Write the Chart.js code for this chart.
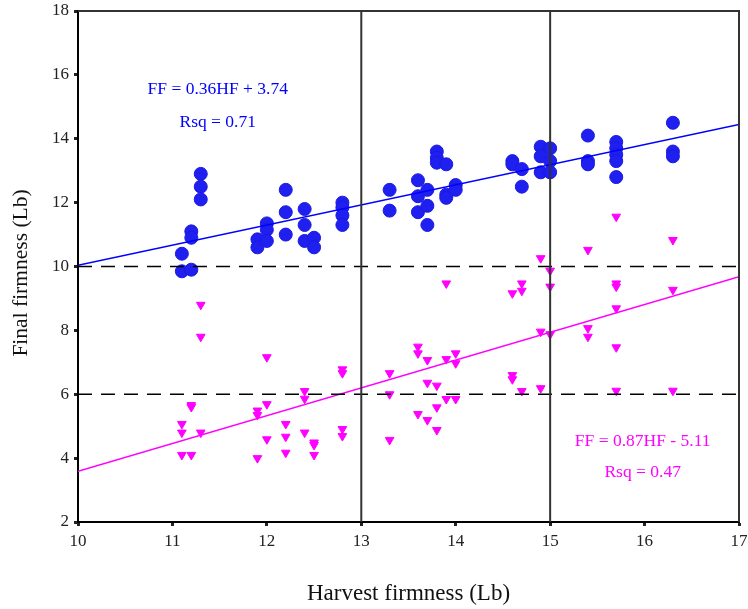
<!DOCTYPE html>
<html>
<head>
<meta charset="utf-8">
<script src="https://cdn.jsdelivr.net/npm/chart.js@4.4.0/dist/chart.umd.min.js"></script>
<style>
html,body{margin:0;padding:0;background:#fff;}
#wrap{width:748px;height:609px;position:relative;}
</style>
</head>
<body>
<div id="wrap"><canvas id="c" width="748" height="609"></canvas></div>
<script>
// Harvest firmness (x) values of the points above 10 Lb (blue circles)
const blueX = [11.1,11.1, 11.2,11.2,11.2, 11.3,11.3,11.3, 11.9,11.9, 12.0,12.0,12.0,
  12.2,12.2,12.2, 12.4,12.4,12.4, 12.5,12.5, 12.8,12.8,12.8,12.8, 13.3,13.3,
  13.6,13.6,13.6, 13.7,13.7,13.7, 13.8,13.8,13.8, 13.9,13.9,13.9, 14.0,14.0,
  14.6,14.6, 14.7,14.7, 14.9,14.9,14.9, 15.0,15.0,15.0, 15.4,15.4,15.4,
  15.7,15.7,15.7,15.7,15.7, 16.3,16.3,16.3];
const blueY = [10.4,9.85, 11.1,10.9,9.9, 12.9,12.5,12.1, 10.85,10.6, 11.35,11.15,10.8,
  12.4,11.7,11.0, 11.8,11.3,10.8, 10.9,10.6, 12.0,11.85,11.6,11.3, 12.4,11.75,
  12.7,12.2,11.7, 12.4,11.9,11.3, 13.6,13.4,13.25, 13.2,12.25,12.15, 12.55,12.4,
  13.3,13.2, 13.05,12.5, 13.75,13.45,12.95, 13.7,13.3,12.95, 14.1,13.3,13.2,
  13.9,13.7,13.5,13.3,12.8, 14.5,13.6,13.45];
// Points below (magenta triangles)
const pinkX = [11.1,11.1,11.1, 11.2,11.2,11.2, 11.3,11.3,11.3, 11.9,11.9,11.9,
  12.0,12.0,12.0, 12.2,12.2,12.2, 12.4,12.4,12.4, 12.5,12.5,12.5, 12.8,12.8,12.8,12.8,
  13.3,13.3,13.3, 13.6,13.6,13.6, 13.7,13.7,13.7, 13.8,13.8,13.8, 13.9,13.9,13.9,
  14.0,14.0,14.0, 14.6,14.6,14.6, 14.7,14.7,14.7, 14.9,14.9,14.9, 15.0,15.0,15.0,
  15.4,15.4,15.4, 15.7,15.7,15.7,15.7,15.7,15.7, 16.3,16.3,16.3];
const pinkY = [5.07,4.8,4.1, 5.66,5.6,4.1, 8.8,7.8,4.8, 5.49,5.35,4.0,
  7.16,5.69,4.59, 5.07,4.67,4.17, 6.1,5.86,4.8, 4.49,4.41,4.1, 6.78,6.66,4.91,4.69,
  6.66,6.0,4.57, 7.49,7.28,5.38, 7.07,6.36,5.19, 6.27,5.59,4.88, 9.47,7.1,5.85,
  7.28,6.97,5.85, 9.16,6.6,6.47, 9.47,9.24,6.1, 10.26,7.96,6.19, 9.87,9.37,7.88,
  10.52,8.07,7.8, 11.56,9.47,9.37,8.69,7.47,6.11, 10.83,9.27,6.11];
// Fitted lines, end points (as drawn)
const fitX = [10, 17];
const blueFitY = [10.04, 14.45];
const pinkFitY = [3.59, 9.68];
// Reference lines
const refVX = [13, 15];
const refHY = [10, 6];
// Axis ticks
const xTicks = [10,11,12,13,14,15,16,17];
const yTicks = [2,4,6,8,10,12,14,16,18];
// Text
const blueEq = ["FF = 0.36HF + 3.74", "Rsq = 0.71"];
const pinkEq = ["FF = 0.87HF - 5.11", "Rsq = 0.47"];
const xTitle = "Harvest firmness (Lb)";
const yTitle = "Final firmness (Lb)";

const XMIN = xTicks[0], XMAX = xTicks[xTicks.length-1];
const YMIN = yTicks[0], YMAX = yTicks[yTicks.length-1];
const FONT = "'Liberation Serif', 'DejaVu Serif', serif";

const zip = (xs, ys) => xs.map((x, i) => ({x: x, y: ys[i]}));

const datasets = [];
refVX.forEach(v => datasets.push({type:'line', data:[{x:v,y:YMIN},{x:v,y:YMAX}],
  borderColor:'#333', borderWidth:2, pointRadius:0, order:1}));
refHY.forEach(v => datasets.push({type:'line', data:[{x:XMIN,y:v},{x:XMAX,y:v}],
  borderColor:'#000', borderWidth:1.5, borderDash:[14,9], pointRadius:0, order:1}));
datasets.push({type:'scatter', data: zip(blueX, blueY), pointStyle:'circle', pointRadius:6.5,
  backgroundColor:'#1f1ff0', borderColor:'#1a1ae0', borderWidth:1, order:3});
datasets.push({type:'scatter', data: zip(pinkX, pinkY), pointStyle:'triangle', rotation:180,
  pointRadius:5, backgroundColor:'#ff00ff', borderColor:'#ff00ff', borderWidth:1, order:3});
datasets.push({type:'line', data: zip(fitX, blueFitY), borderColor:'#0000ff', borderWidth:1.5, pointRadius:0, order:2});
datasets.push({type:'line', data: zip(fitX, pinkFitY), borderColor:'#ff00ff', borderWidth:1.5, pointRadius:0, order:2});

const extras = {
  id:'extras',
  afterDatasetsDraw(chart){
    const {ctx, chartArea:a, scales:{x, y}} = chart;
    ctx.save();
    ctx.strokeStyle = '#333'; ctx.lineWidth = 2;
    ctx.beginPath();
    ctx.moveTo(a.left, a.top); ctx.lineTo(a.right, a.top); ctx.lineTo(a.right, a.bottom);
    ctx.stroke();
    ctx.font = "17.5px " + FONT;
    ctx.textAlign = 'center'; ctx.textBaseline = 'middle';
    ctx.fillStyle = '#0000ff';
    ctx.fillText(blueEq[0], x.getPixelForValue(11.48), y.getPixelForValue(15.53));
    ctx.fillText(blueEq[1], x.getPixelForValue(11.48), y.getPixelForValue(14.52));
    ctx.fillStyle = '#ff00ff';
    ctx.fillText(pinkEq[0], x.getPixelForValue(15.98), y.getPixelForValue(4.51));
    ctx.fillText(pinkEq[1], x.getPixelForValue(15.98), y.getPixelForValue(3.54));
    // y axis title
    ctx.fillStyle = '#111';
    ctx.font = "21.5px " + FONT;
    ctx.translate(21, 273);
    ctx.rotate(-Math.PI/2);
    ctx.fillText(yTitle, 0, 0);
    ctx.restore();
  }
};

new Chart(document.getElementById('c'), {
  data: {datasets},
  plugins: [extras],
  options: {
    responsive:false, animation:false,
    layout:{padding:{top:11, right:9, left:0, bottom:0}},
    plugins:{legend:{display:false}, tooltip:{enabled:false}},
    scales:{
      x:{type:'linear', min:XMIN, max:XMAX,
        afterBuildTicks: s => { s.ticks = xTicks.map(v => ({value:v})); },
        afterFit: s => { s.height = 87; s.paddingLeft = 0; s.paddingRight = 0; },
        ticks:{padding:5, color:'#222', font:{family:FONT, size:17}},
        grid:{display:true, drawOnChartArea:false, drawTicks:true, tickLength:4, tickWidth:3, color:'#222'},
        border:{display:true, color:'#000', width:2},
        title:{display:true, text:xTitle, color:'#111', font:{family:FONT, size:23}, padding:{top:0,bottom:1}}
      },
      y:{type:'linear', min:YMIN, max:YMAX,
        afterBuildTicks: s => { s.ticks = yTicks.map(v => ({value:v})); },
        afterFit: s => { s.width = 78; s.paddingTop = 0; s.paddingBottom = 0; },
        ticks:{padding:5, color:'#222', font:{family:FONT, size:17}},
        grid:{display:true, drawOnChartArea:false, drawTicks:true, tickLength:4, tickWidth:3, color:'#222'},
        border:{display:true, color:'#000', width:2},
        title:{display:false}
      }
    }
  }
});
</script>
</body>
</html>
